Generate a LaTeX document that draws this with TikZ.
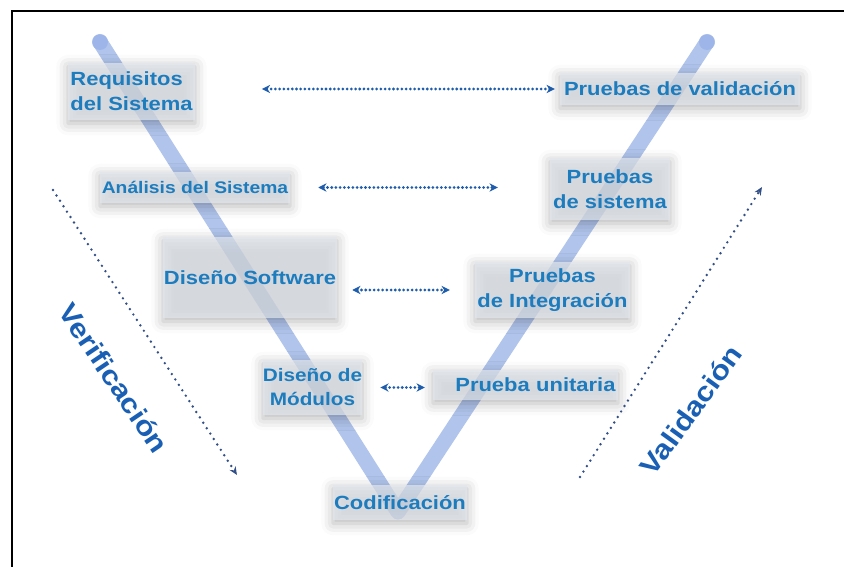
\documentclass[tikz,border=0pt]{standalone}
\usepackage{fontspec}
\newfontfamily\vfont[FakeStretch=1.15]{Liberation Sans}
\usepackage{tikz}
\usetikzlibrary{arrows}
\usetikzlibrary{arrows.meta}
\usetikzlibrary{shadows.blur}
\usepackage{xcolor}

\definecolor{textoazul}{RGB}{28,124,190}
\definecolor{flechaazul}{RGB}{30,92,172}
\definecolor{guiaazul}{RGB}{50,80,135}
\definecolor{tituloazul}{RGB}{25,95,180}
\definecolor{trazoazul}{RGB}{150,176,230}
\definecolor{cajagris}{RGB}{226,231,237}

\begin{document}
\begin{tikzpicture}[x=0.03cm, y=-0.03cm, >=Stealth]
\tikzstyle{etapa} = [text=textoazul, font=\vfont\bfseries\fontsize{16.3}{21.5}\selectfont, fill=cajagris, fill opacity=0.7, text opacity=1, inner sep=0pt, align=center, blur shadow={shadow xshift=0pt, shadow yshift=-3pt, shadow blur radius=10pt, shadow opacity=40}]
\tikzstyle{flecha} = [<->, draw=flechaazul, line width=2.6pt, line cap=round, dash pattern=on 0pt off 3.6pt, >={Stealth[length=7pt, width=7pt]}]
\tikzstyle{guia} = [->, draw=guiaazul, line width=2.3pt, line cap=round, dash pattern=on 0pt off 5.5pt, >={Stealth[length=7pt, width=6pt, open]}]
\tikzstyle{trazo} = [draw=trazoazul, line width=13pt, line cap=round, line join=round, draw opacity=0.75]
\tikzstyle{titulo} = [text=tituloazul, font=\vfont\bfseries\fontsize{23}{27}\selectfont]

\useasboundingbox (0,0) rectangle (844,567);
\draw[line width=1.6pt] (12,567) -- (12,11) -- (844,11);

% la V
\coordinate (vizq) at (100,42);
\coordinate (vfondo) at (398,512);
\coordinate (vder) at (707,42);
\draw[trazo] (vizq) -- (vfondo) -- (vder);
\fill[trazoazul, opacity=0.75] (vizq) circle (8) (vder) circle (8);

% etapas
\node[etapa, align=left, minimum width=3.81cm, minimum height=1.71cm] (req) at (131.5,91.5) {Requisitos\\del Sistema};
\node[etapa, minimum width=7.2cm, minimum height=0.96cm] (pval) at (680,89) {Pruebas de validación};
\node[etapa, font=\vfont\bfseries\fontsize{14.3}{18}\selectfont, minimum width=5.7cm, minimum height=0.93cm] (ana) at (195,187.5) {Análisis del Sistema};
\node[etapa, minimum width=3.6cm, minimum height=1.86cm] (psis) at (610,189) {Pruebas\\de sistema};
\node[etapa, minimum width=5.22cm, minimum height=2.43cm] (dsw) at (250,277.5) {Diseño Software};
\node[etapa, minimum width=4.65cm, minimum height=1.68cm] (pint) at (552.5,290) {Pruebas\\de Integración};
\node[etapa, font=\vfont\bfseries\fontsize{15.4}{20.5}\selectfont, minimum width=2.85cm, minimum height=1.65cm] (dmod) at (312.5,387.5) {Diseño de\\Módulos};
\node[etapa, text width=5.4cm, align=right, minimum width=5.55cm, minimum height=0.9cm] (punit) at (525.5,385) {Prueba unitaria};
\node[etapa, minimum width=4.02cm, minimum height=1.05cm] (cod) at (400,502.5) {Codificación};

% correspondencias
\draw[flecha, shorten <=2cm, shorten >=0.15cm] (req.east |- pval.west) -- (pval.west);
\draw[flecha, shorten <=0.84cm, shorten >=1.56cm] (ana.east) -- (ana.east -| psis.west);
\draw[flecha, shorten <=0.45cm, shorten >=0.75cm] (dsw.east |- pint.west) -- (pint.west);
\draw[flecha, shorten <=0.54cm, shorten >=0.24cm] (dmod.east) -- (dmod.east -| punit.west);

% verificacion y validacion
\coordinate (ver1) at (53,190);
\coordinate (ver2) at (237,475);
\coordinate (val1) at (580,477);
\coordinate (val2) at (762,187);
\draw[guia] (ver1) -- (ver2);
\draw[guia] (val1) -- (val2);
\node[titulo, rotate=-56] (verif) at (114,378) {Verificación};
\node[titulo, rotate=54] (valid) at (691,410) {Validación};

\end{tikzpicture}
\end{document}
